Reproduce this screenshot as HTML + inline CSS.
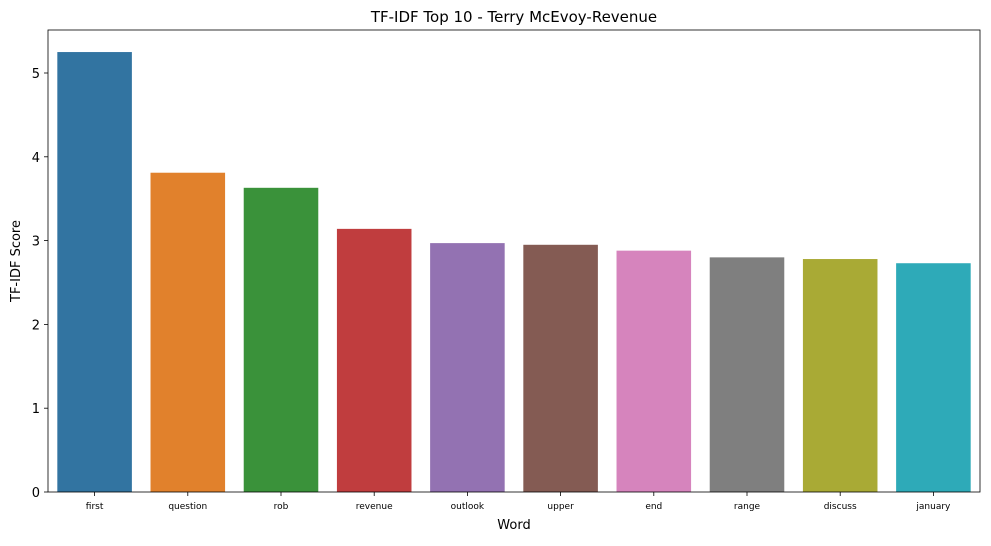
<!DOCTYPE html>
<html><head><meta charset="utf-8">
<style>
body{margin:0;background:#fff;font-family:"Liberation Sans","DejaVu Sans",sans-serif;}
svg text{font-family:"DejaVu Sans","Liberation Sans",sans-serif;}
</style></head>
<body>
<svg id="chart" width="991" height="541">
<text x="514" y="22" font-size="15" text-anchor="middle">TF-IDF Top 10 - Terry McEvoy-Revenue</text>
<text x="514" y="529" font-size="13" text-anchor="middle">Word</text>
<text x="20" y="261" font-size="13" text-anchor="middle" transform="rotate(-90 20 261)">TF-IDF Score</text>
<g id="bars"></g>
<g id="axes"></g>
</svg>
<script>
const categories=["first","question","rob","revenue","outlook","upper","end","range","discuss","january"];
const values=[5.25,3.81,3.63,3.14,2.97,2.95,2.88,2.80,2.78,2.73];
const yTicks=[0,1,2,3,4,5];
const colors=["#3274a1","#e1812c","#3a923a","#c03d3e","#9372b2","#845b53","#d684bd","#7f7f7f","#a9aa35","#2eaab8"];
const L=48,R=980,T=30,B=492,perUnit=83.8;
const NS="http://www.w3.org/2000/svg";
function y(v){return B-v*perUnit;}
const band=(R-L)/categories.length;
function x(i){return L+band*i;}
const bars=document.getElementById('bars'),axes=document.getElementById('axes');
function mk(tag,attrs,parent){const e=document.createElementNS(NS,tag);for(const k in attrs)e.setAttribute(k,attrs[k]);parent.appendChild(e);return e;}
categories.forEach((c,i)=>{
  const r=mk('rect',{x:x(i)+band*0.1,y:y(values[i]),width:band*0.8,height:B-y(values[i]),fill:colors[i]},bars);
  
  
  const t=mk('line',{x1:x(i)+band/2,x2:x(i)+band/2,y1:B,y2:B+4,stroke:'#000','stroke-width':0.8},axes);
  const lb=mk('text',{x:x(i)+band/2,y:B+17,'font-size':9,'text-anchor':'middle'},axes);
  lb.textContent=c;
  
  
});
yTicks.forEach(v=>{
  mk('line',{x1:L-4,x2:L,y1:y(v),y2:y(v),stroke:'#000','stroke-width':0.8},axes);
  const lb=mk('text',{x:L-8,y:y(v)+5,'font-size':13,'text-anchor':'end'},axes);
  lb.textContent=v;
  
  
});
const frame=mk('rect',{x:L,y:T,width:R-L,height:B-T,fill:'none',stroke:'#000','stroke-width':0.8},axes);


</script>
</body></html>
